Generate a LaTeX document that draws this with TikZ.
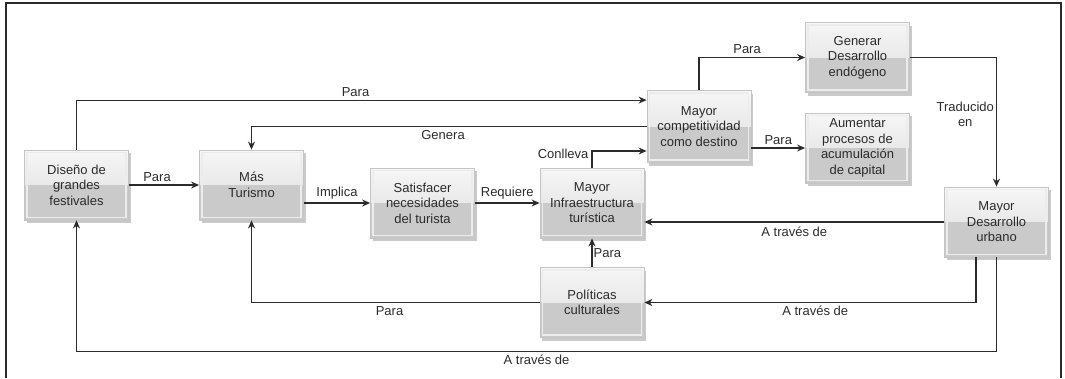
\documentclass[tikz,border=0pt]{standalone}
\usepackage{fontspec}
\setmainfont{Liberation Sans}
\usetikzlibrary{arrows.meta,shadows}

\definecolor{boxtop}{HTML}{F6F6F6}
\definecolor{boxmid}{HTML}{DCDCDC}
\definecolor{boxlow}{HTML}{CACACA}
\definecolor{boxline}{HTML}{C4C4C4}
\definecolor{ink}{HTML}{2B2B2B}

\begin{document}
\begin{tikzpicture}[x=1pt,y=-1pt,
  every node/.style={font=\fontsize{13}{15.5}\selectfont, text=ink},
  box/.style={rectangle, draw=boxline, line width=0.8pt,
    minimum width=104pt, minimum height=70pt, align=center,
    top color=boxtop, bottom color=boxmid,
    drop shadow={shadow xshift=2pt, shadow yshift=-3pt, fill=gray!70, opacity=0.6},
    path picture={
      \fill[boxlow] (path picture bounding box.west) rectangle (path picture bounding box.south east);
      \draw[white!85!gray, line width=1.2pt] ([shift={(2.5pt,-2.5pt)}]path picture bounding box.north west)
        rectangle ([shift={(-2.5pt,2.5pt)}]path picture bounding box.south east);}},
  link/.style={draw=ink, line width=1.2pt, -{Stealth[length=8pt,width=7pt]}},
  lab/.style={inner sep=3pt}]

\useasboundingbox (0,0) rectangle (1065,378);
\draw[ink, line width=1.2pt] (6,378) -- (6,3) -- (1061,3) -- (1061,378);

% boxes
\node[box] (dis) at (76.5,185) {Diseño de\\grandes\\festivales};
\node[box] (tur) at (251.5,185) {Más\\Turismo};
\node[box] (sat) at (422.5,203) {Satisfacer\\necesidades\\del turista};
\node[box] (inf) at (592,203) {Mayor\\Infraestructura\\turística};
\node[box] (pol) at (592,302.5) {Políticas\\culturales};
\node[box, minimum height=72pt] (com) at (699,126.5) {Mayor\\competitividad\\como destino};
\node[box] (gen) at (857.5,57.5) {Generar\\Desarrollo\\endógeno};
\node[box] (aum) at (857.5,148) {Aumentar\\procesos de\\acumulación\\de capital};
\node[box] (urb) at (996.5,222) {Mayor\\Desarrollo\\urbano};

% connectors
\draw[link] (dis.north) |- ([yshift=-10pt]com.north west) node[lab, pos=0.75, above, xshift=-6pt] {Para};
\draw[link] (com.west) -| (tur.north) node[lab, pos=0.25, below, xshift=-6pt] {Genera};
\draw[link] (dis) -- (tur) node[lab, midway, above, xshift=-7pt] {Para};
\draw[link] ([yshift=-18pt]tur.east) -- (sat.west) node[lab, midway, above] {Implica};
\draw[link] (sat) -- (inf) node[lab, midway, above] {Requiere};
\draw[link] (inf.north) |- ([yshift=-24.5pt]com.west) node[lab, pos=0.5, left, yshift=-3pt] {Conlleva};
\draw[link] (com.north) |- (gen.west) node[lab, pos=0.75, above, xshift=-5pt] {Para};
\draw[link] ([yshift=-21.5pt]com.east) -- (aum.west) node[lab, midway, above] {Para};
\draw[link] (gen.east) -| (urb.north) node[lab, pos=0.72, left, align=center, inner sep=2pt] {Traducido\\en};
\draw[link] (urb.west) -- (urb.west -| inf.east) node[lab, midway, below, yshift=-1pt] {A través de};
\draw[link] ([xshift=-20.5pt]urb.south) |- (pol.east) node[lab, pos=0.75, below, xshift=5pt] {A través de};
\draw[link] (pol.west) -| (tur.south) node[lab, pos=0.25, below, xshift=-6pt] {Para};
\draw[link] (urb.south) -- ++(0,94) -| (dis.south) node[lab, pos=0.25, below] {A través de};
\draw[link] (pol) -- (inf) node[lab, midway, right, inner sep=1pt] {Para};
\end{tikzpicture}
\end{document}
